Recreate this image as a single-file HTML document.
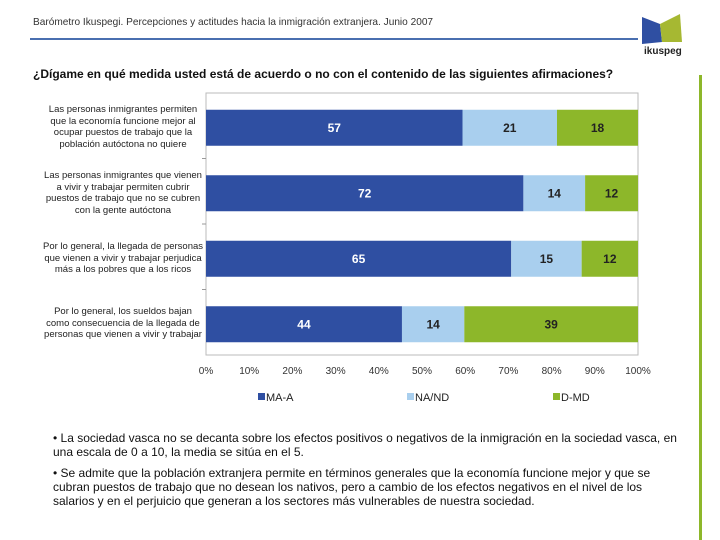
<!DOCTYPE html>
<html><head><meta charset="utf-8"><style>
body{margin:0;width:720px;height:540px;background:#fff;font-family:"Liberation Sans",sans-serif;position:relative;overflow:hidden}
.abs{position:absolute}
.lbl{position:absolute;left:34px;width:178px;text-align:center;font-size:9.5px;line-height:11.5px;color:#222;white-space:nowrap}
.b{position:absolute;left:53px;width:640px;font-size:12px;line-height:14px;color:#111;white-space:nowrap}
</style></head><body>
<div class="abs" style="left:33px;top:17px;font-size:10.1px;color:#333">Barómetro Ikuspegi. Percepciones y actitudes hacia la inmigración extranjera. Junio 2007</div>
<div class="abs" style="left:30px;top:38px;width:608px;height:2px;background:#4a6fb0"></div>
<div class="abs" style="left:640px;top:12px;width:50px;height:55px">
<svg width="50" height="55"><path d="M2 5 L20 12 L22 30 L2 32Z" fill="#2f4fa2"/><path d="M20 12 L40 2 L42 30 L22 30Z" fill="#a6b832"/><text x="4" y="42" font-size="10" font-weight="bold" fill="#222" font-family="Liberation Sans">ikuspeg</text></svg></div>
<div class="abs" style="left:699px;top:75px;width:3px;height:465px;background:#8db72a"></div>
<div class="abs" style="left:33px;top:67px;font-size:12px;font-weight:bold;color:#111">¿Dígame en qué medida usted está de acuerdo o no con el contenido de las siguientes afirmaciones?</div>
<div class="lbl" style="top:104px">Las personas inmigrantes permiten<br>que la economía funcione mejor al<br>ocupar puestos de trabajo que la<br>población autóctona no quiere</div>
<div class="lbl" style="top:170px">Las personas inmigrantes que vienen<br>a vivir y trabajar permiten cubrir<br>puestos de trabajo que no se cubren<br>con la gente autóctona</div>
<div class="lbl" style="top:241px">Por lo general, la llegada de personas<br>que vienen a vivir y trabajar perjudica<br>más a los pobres que a los ricos</div>
<div class="lbl" style="top:306px">Por lo general, los sueldos bajan<br>como consecuencia de la llegada de<br>personas que vienen a vivir y trabajar</div>
<svg id="chart" class="abs" style="left:0;top:0" width="720" height="420"></svg>
<div class="b" style="top:431px">• La sociedad vasca no se decanta sobre los efectos positivos o negativos de la inmigración en la sociedad vasca, en<br>una escala de 0 a 10, la media se sitúa en el 5.</div>
<div class="b" style="top:466px">• Se admite que la población extranjera permite en términos generales que la economía funcione mejor y que se<br>cubran puestos de trabajo que no desean los nativos, pero a cambio de los efectos negativos en el nivel de los<br>salarios y en el perjuicio que generan a los sectores más vulnerables de nuestra sociedad.</div>
<script>
const categories=["c1","c2","c3","c4"];
const maA=[57,72,65,44];
const naNd=[21,14,15,14];
const dMd=[18,12,12,39];
const seriesNames=["MA-A","NA/ND","D-MD"];
const tickLabels=["0%","10%","20%","30%","40%","50%","60%","70%","80%","90%","100%"];
const NS="http://www.w3.org/2000/svg";
const svg=document.getElementById('chart');
const x0=206,x1=638,top0=93,bot=355;
const xs=p=>x0+(x1-x0)*p/100;
const rowH=(bot-top0)/categories.length;
function el(t,a){const e=document.createElementNS(NS,t);for(const k in a)e.setAttribute(k,a[k]);svg.appendChild(e);return e;}
const frame=el('rect',{x:x0,y:top0,width:x1-x0,height:bot-top0,fill:'none',stroke:'#bbb'});


const cols=['#2f4fa2','#a9cfee','#8db72a'];
const txtCols=['#fff','#222','#222'];
const series=[maA,naNd,dMd];
categories.forEach((c,i)=>{
  const tot=maA[i]+naNd[i]+dMd[i];
  let acc=0;
  const h=36,y=top0+rowH*i+rowH/2-h/2+2;
  series.forEach((s,j)=>{
    const v=s[i];const a=xs(acc/tot*100),b=xs((acc+v)/tot*100);acc+=v;
    const r=el('rect',{x:a,y:y,width:b-a,height:h,fill:cols[j]});
    
    
    const t=el('text',{x:(a+b)/2,y:y+h/2+4,'text-anchor':'middle','font-size':12,'font-weight':'bold',fill:txtCols[j],'font-family':'Liberation Sans'});
    t.textContent=v;
    
    
  });
  if(i>0){const tk=el('line',{x1:x0-4,x2:x0,y1:top0+rowH*i,y2:top0+rowH*i,stroke:'#999'});
  
  }
});
tickLabels.forEach((l,i)=>{
  const t=el('text',{x:xs(i*10),y:374,'text-anchor':'middle','font-size':10,fill:'#333','font-family':'Liberation Sans'});
  t.textContent=l;
  
  
});
const lx=[258,407,553];
seriesNames.forEach((n,j)=>{
  const r=el('rect',{x:lx[j],y:393,width:7,height:7,fill:cols[j]});
  
  
  const t=el('text',{x:lx[j]+8,y:401,'font-size':11,fill:'#222','font-family':'Liberation Sans'});
  t.textContent=n;
  
  
});
</script>
</body></html>
